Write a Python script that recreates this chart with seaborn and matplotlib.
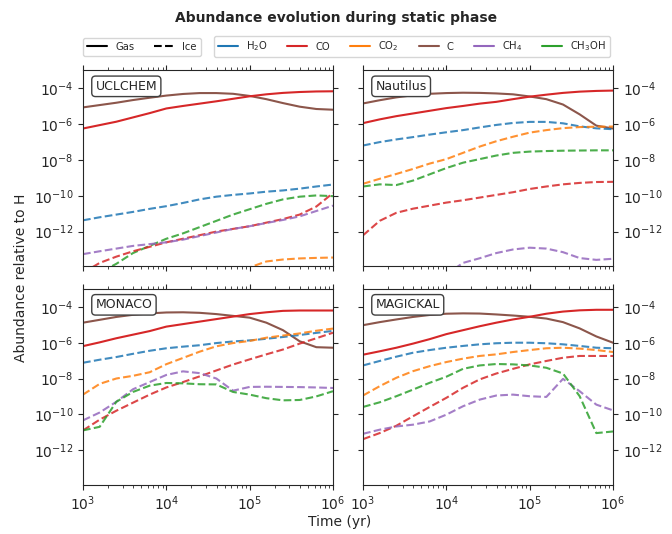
import numpy as np
import pandas as pd
import matplotlib
matplotlib.use("Agg")
import matplotlib.pyplot as plt
from matplotlib.lines import Line2D
import seaborn as sns

# ---------------- data (log10 abundance relative to H) ----------------
log_time = [3.0, 3.2, 3.4, 3.6, 3.8, 4.0, 4.2, 4.4, 4.6, 4.8, 5.0, 5.2, 5.4, 5.6, 5.8, 6.0]

models = ["UCLCHEM", "Nautilus", "MONACO", "MAGICKAL"]
species = ["H2O", "CO", "CO2", "C", "CH4", "CH3OH"]
species_labels = [r"H$_2$O", "CO", r"CO$_2$", "C", r"CH$_4$", r"CH$_3$OH"]
species_colors = ["#1f77b4", "#d62728", "#ff7f0e", "#8c564b", "#9467bd", "#2ca02c"]

# UCLCHEM
ucl_gas_C = [-5.06, -4.93, -4.8, -4.65, -4.52, -4.4, -4.31, -4.26, -4.26, -4.3, -4.42, -4.6, -4.82, -5.02, -5.15, -5.19]
ucl_gas_CO = [-6.24, -6.05, -5.86, -5.62, -5.38, -5.12, -4.98, -4.85, -4.72, -4.58, -4.44, -4.33, -4.25, -4.2, -4.17, -4.16]
ucl_ice_H2O = [-11.37, -11.2, -11.05, -10.9, -10.73, -10.58, -10.4, -10.2, -10.05, -9.95, -9.87, -9.77, -9.7, -9.6, -9.48, -9.37]
ucl_ice_CO2 = [-17.5, -17.4, -17.3, -17.2, -17.0, -16.8, -16.5, -16.0, -15.3, -14.6, -14.0, -13.67, -13.56, -13.5, -13.47, -13.45]
ucl_ice_CH3OH = [-14.8, -14.3, -13.8, -13.2, -12.8, -12.4, -12.1, -11.75, -11.4, -11.05, -10.75, -10.45, -10.2, -10.05, -9.98, -10.02]
ucl_ice_CO = [-14.3, -13.75, -13.4, -13.1, -12.85, -12.6, -12.4, -12.2, -12.0, -11.85, -11.7, -11.5, -11.3, -11.05, -10.6, -9.85]
ucl_ice_CH4 = [-13.26, -13.1, -12.95, -12.8, -12.7, -12.6, -12.45, -12.25, -12.05, -11.85, -11.7, -11.52, -11.35, -11.15, -10.85, -10.55]

# Nautilus
nau_gas_C = [-4.84, -4.66, -4.5, -4.38, -4.3, -4.26, -4.24, -4.25, -4.28, -4.33, -4.45, -4.6, -4.9, -5.45, -6.08, -6.24]
nau_gas_CO = [-5.94, -5.73, -5.55, -5.4, -5.25, -5.1, -4.98, -4.85, -4.75, -4.6, -4.46, -4.35, -4.25, -4.18, -4.14, -4.12]
nau_ice_H2O = [-7.19, -7.0, -6.85, -6.72, -6.58, -6.45, -6.33, -6.18, -6.04, -5.93, -5.87, -5.87, -5.95, -6.12, -6.23, -6.28]
nau_ice_CO2 = [-9.33, -9.05, -8.78, -8.5, -8.2, -7.95, -7.6, -7.25, -6.95, -6.7, -6.47, -6.33, -6.22, -6.16, -6.14, -6.13]
nau_ice_CH3OH = [-9.48, -9.36, -9.4, -9.15, -8.8, -8.45, -8.15, -7.95, -7.75, -7.6, -7.53, -7.5, -7.48, -7.47, -7.46, -7.46]
nau_ice_CO = [-12.21, -11.4, -10.95, -10.72, -10.55, -10.38, -10.25, -10.1, -9.95, -9.8, -9.62, -9.48, -9.36, -9.28, -9.23, -9.22]
nau_ice_CH4 = [-17.5, -17.0, -16.5, -16.0, -15.2, -14.4, -13.75, -13.49, -13.2, -13.0, -12.9, -12.95, -13.15, -13.48, -13.58, -13.52]

# MONACO
mon_gas_C = [-4.88, -4.72, -4.56, -4.44, -4.36, -4.31, -4.3, -4.33, -4.4, -4.5, -4.6, -4.88, -5.3, -5.92, -6.25, -6.28]
mon_gas_CO = [-6.19, -5.98, -5.75, -5.55, -5.35, -5.1, -4.96, -4.82, -4.68, -4.54, -4.4, -4.3, -4.22, -4.2, -4.2, -4.2]
mon_ice_H2O = [-7.12, -6.95, -6.8, -6.62, -6.45, -6.31, -6.22, -6.14, -6.02, -5.93, -5.87, -5.78, -5.68, -5.57, -5.45, -5.34]
mon_ice_CO2 = [-8.9, -8.3, -8.0, -7.85, -7.65, -7.2, -6.85, -6.5, -6.2, -6.02, -5.9, -5.72, -5.6, -5.48, -5.33, -5.21]
mon_ice_CO = [-10.9, -10.3, -9.8, -9.35, -8.9, -8.5, -8.2, -7.88, -7.55, -7.22, -6.93, -6.65, -6.38, -6.05, -5.75, -5.44]
mon_ice_CH4 = [-10.34, -9.9, -9.3, -8.6, -8.2, -7.8, -7.6, -7.7, -8.0, -8.68, -8.47, -8.46, -8.47, -8.48, -8.5, -8.53]
mon_ice_CH3OH = [-10.9, -10.7, -9.3, -8.75, -8.4, -8.25, -8.27, -8.32, -8.33, -8.75, -8.9, -9.1, -9.22, -9.2, -9.0, -8.71]

# MAGICKAL
mag_gas_C = [-5.02, -4.85, -4.7, -4.56, -4.45, -4.38, -4.36, -4.37, -4.42, -4.48, -4.55, -4.65, -4.85, -5.2, -5.65, -6.0]
mag_gas_CO = [-6.67, -6.48, -6.28, -6.05, -5.8, -5.52, -5.3, -5.08, -4.88, -4.7, -4.55, -4.38, -4.26, -4.19, -4.16, -4.16]
mag_ice_H2O = [-7.27, -7.02, -6.78, -6.56, -6.41, -6.28, -6.18, -6.09, -6.03, -6.0, -6.0, -6.03, -6.09, -6.18, -6.28, -6.31]
mag_ice_CO2 = [-8.95, -8.43, -7.96, -7.59, -7.31, -7.08, -6.89, -6.74, -6.65, -6.52, -6.41, -6.31, -6.28, -6.33, -6.41, -6.52]
mag_ice_CO = [-11.39, -11.05, -10.64, -10.11, -9.59, -9.08, -8.52, -8.05, -7.72, -7.46, -7.21, -7.02, -6.84, -6.74, -6.74, -6.74]
mag_ice_CH4 = [-11.09, -10.86, -10.68, -10.58, -10.4, -10.02, -9.55, -9.18, -8.95, -8.9, -8.99, -9.03, -8.02, -8.71, -9.46, -9.78]
mag_ice_CH3OH = [-9.59, -9.33, -8.99, -8.62, -8.24, -7.9, -7.46, -7.27, -7.19, -7.21, -7.27, -7.4, -7.72, -8.99, -11.05, -10.96]

curves = [
    ("UCLCHEM", "C", "Gas", ucl_gas_C), ("UCLCHEM", "CO", "Gas", ucl_gas_CO),
    ("UCLCHEM", "H2O", "Ice", ucl_ice_H2O), ("UCLCHEM", "CO2", "Ice", ucl_ice_CO2),
    ("UCLCHEM", "CH3OH", "Ice", ucl_ice_CH3OH), ("UCLCHEM", "CO", "Ice", ucl_ice_CO),
    ("UCLCHEM", "CH4", "Ice", ucl_ice_CH4),
    ("Nautilus", "C", "Gas", nau_gas_C), ("Nautilus", "CO", "Gas", nau_gas_CO),
    ("Nautilus", "H2O", "Ice", nau_ice_H2O), ("Nautilus", "CO2", "Ice", nau_ice_CO2),
    ("Nautilus", "CH3OH", "Ice", nau_ice_CH3OH), ("Nautilus", "CO", "Ice", nau_ice_CO),
    ("Nautilus", "CH4", "Ice", nau_ice_CH4),
    ("MONACO", "C", "Gas", mon_gas_C), ("MONACO", "CO", "Gas", mon_gas_CO),
    ("MONACO", "H2O", "Ice", mon_ice_H2O), ("MONACO", "CO2", "Ice", mon_ice_CO2),
    ("MONACO", "CO", "Ice", mon_ice_CO), ("MONACO", "CH4", "Ice", mon_ice_CH4),
    ("MONACO", "CH3OH", "Ice", mon_ice_CH3OH),
    ("MAGICKAL", "C", "Gas", mag_gas_C), ("MAGICKAL", "CO", "Gas", mag_gas_CO),
    ("MAGICKAL", "H2O", "Ice", mag_ice_H2O), ("MAGICKAL", "CO2", "Ice", mag_ice_CO2),
    ("MAGICKAL", "CO", "Ice", mag_ice_CO), ("MAGICKAL", "CH4", "Ice", mag_ice_CH4),
    ("MAGICKAL", "CH3OH", "Ice", mag_ice_CH3OH),
]

rows = []
for model, sp, phase, vals in curves:
    for lt, v in zip(log_time, vals):
        rows.append({"model": model, "species": sp, "phase": phase,
                     "time": 10.0 ** lt, "abundance": 10.0 ** v})
df = pd.DataFrame(rows)

# ---------------- figure ----------------
sns.set_style("ticks")
plt.rcParams["font.family"] = ["DejaVu Sans"]

fig, axes = plt.subplots(2, 2, figsize=(6.72, 5.34), dpi=100, sharex=True, sharey=True)
fig.subplots_adjust(left=83 / 672, right=613 / 672, top=1 - 70 / 534, bottom=1 - 485 / 534,
                    wspace=0.12, hspace=0.112)

color_map = dict(zip(species, species_colors))

for ax, model in zip(axes.flat, models):
    sub = df[df["model"] == model]
    for (sp, phase), g in sub.groupby(["species", "phase"], sort=False):
        sns.lineplot(data=g, x="time", y="abundance", ax=ax, color=color_map[sp],
                     linestyle="-" if phase == "Gas" else "--",
                     alpha=1.0 if phase == "Gas" else 0.85,
                     linewidth=1.5, legend=False, estimator=None)
    ax.set_xscale("log")
    ax.set_yscale("log")
    ax.set_xlim(1e3, 1e6)
    ax.set_ylim(1.12e-14, 1.07e-3)
    ax.set_xlabel("")
    ax.set_ylabel("")
    ax.text(0.05, 0.95, model, transform=ax.transAxes, fontsize=9, va="top", ha="left",
            bbox=dict(boxstyle="round,pad=0.3", facecolor="white", edgecolor="0.25"))
    ax.tick_params(which="both", top=True, right=True, direction="out", labelsize=10)
    for s in ax.spines.values():
        s.set_color("0.15")

for ax in axes[:, 1]:
    ax.tick_params(which="both", labelleft=False, labelright=True)

# legends
phase_handles = [Line2D([], [], color="black", lw=1.5, ls="-", label="Gas"),
                 Line2D([], [], color="black", lw=1.5, ls="--", label="Ice")]
sp_handles = [Line2D([], [], color=c, lw=1.5, label=l) for c, l in zip(species_colors, species_labels)]

fig.legend(handles=phase_handles, loc="center left", bbox_to_anchor=(83 / 672, 1 - 46.5 / 534),
           ncol=2, fontsize=7.2, frameon=True, borderaxespad=0)
fig.legend(handles=sp_handles, loc="center right", bbox_to_anchor=(610 / 672, 1 - 46.5 / 534),
           ncol=6, fontsize=7.2, frameon=True, borderaxespad=0)

fig.text(0.5, 1 - 18 / 534, "Abundance evolution during static phase", ha="center", va="center",
         fontsize=10, fontweight="bold")
fig.text(340 / 672, 1 - 522 / 534, "Time (yr)", ha="center", va="center", fontsize=10)
fig.text(21 / 672, 1 - 278 / 534, "Abundance relative to H", ha="center", va="center",
         rotation=90, fontsize=10)

fig.savefig("out.png", dpi=100)
